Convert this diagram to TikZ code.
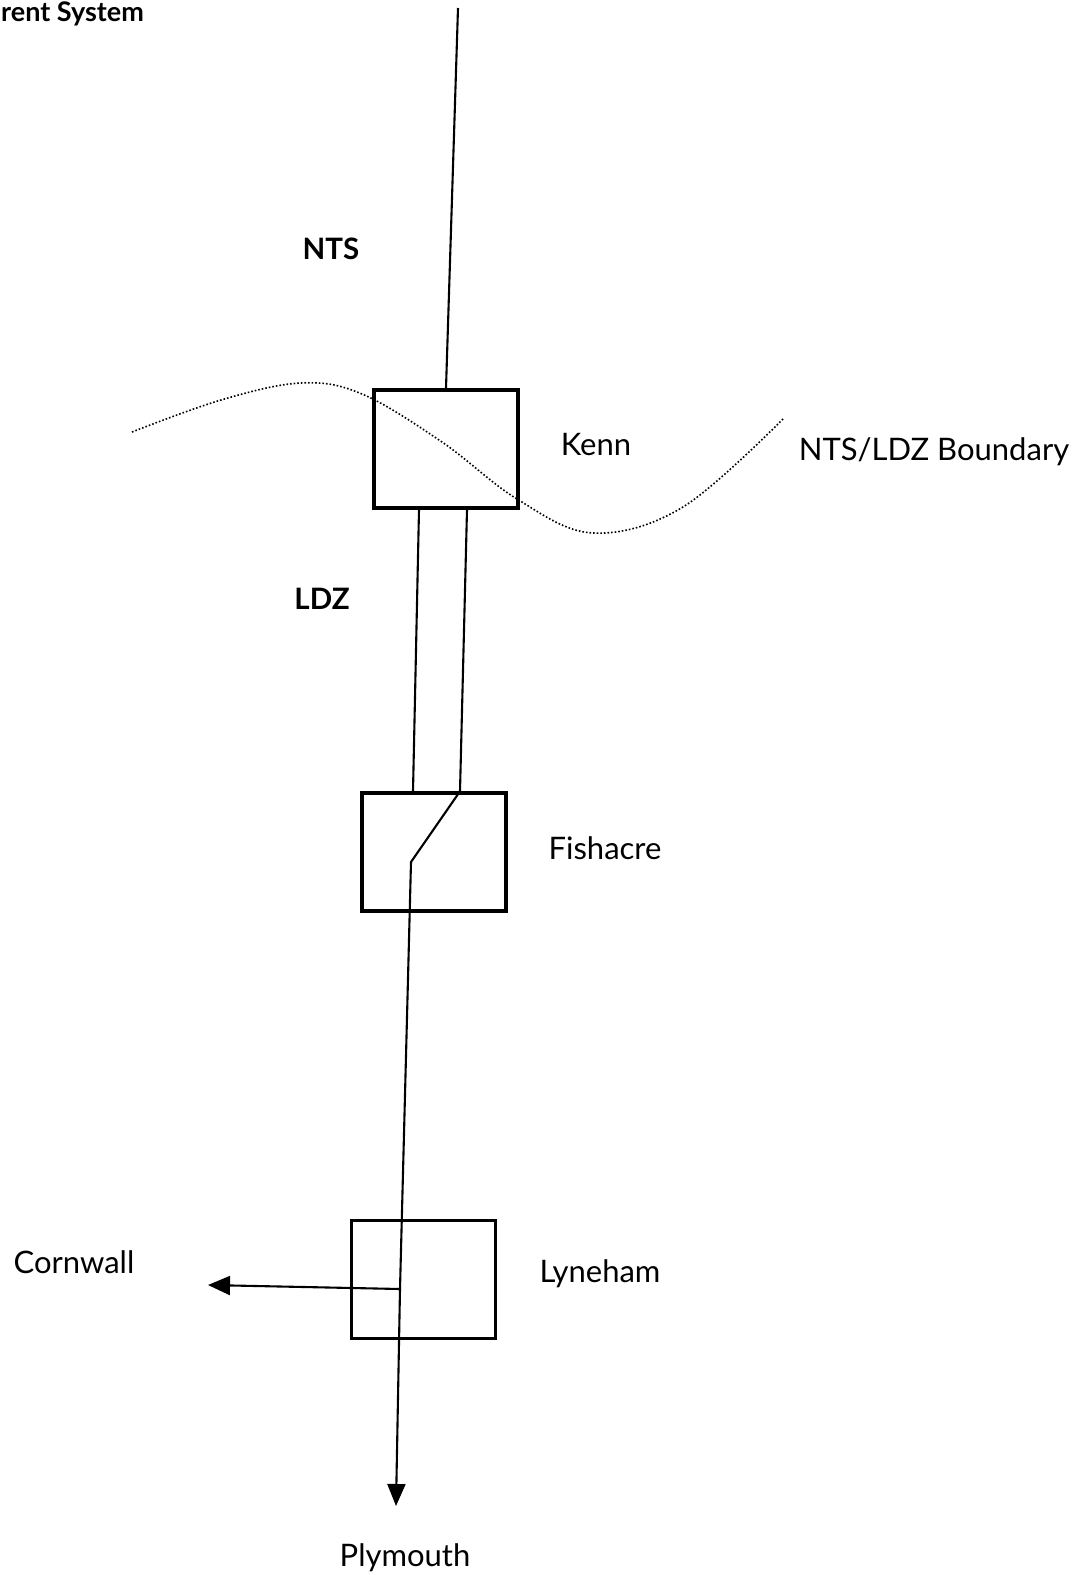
\documentclass[tikz,border=0pt]{standalone}
\usepackage{fontspec}
\setmainfont{Lato}
\usetikzlibrary{arrows.meta}

\begin{document}
\begin{tikzpicture}[x=1pt,y=-1pt,
	station/.style={draw,line width=3.4pt,minimum width=144pt,minimum height=118pt},
	pipe/.style={line width=2.1pt},
	lbl/.style={font=\fontsize{31}{34}\selectfont},
	zone/.style={font=\fontsize{29.5}{32}\selectfont\bfseries}]
				\useasboundingbox (0,0) rectangle (1084,1575);
				\node[station] (kenn) at (446,449) {};
				\node[station] (fish) at (434,852) {};
				\node[station,line width=3pt] (lyne) at (423,1279) {};
				\coordinate (ntstop) at (458,8);
				\coordinate (kink) at (411,862);
				\coordinate (tee) at (400,1289);
				\coordinate (plym) at (396,1506);
				\coordinate (corn) at (208,1285);
				\draw[pipe] (ntstop) -- (kenn.north);
				\draw[pipe] ([xshift=-27pt]kenn.south) -- ([xshift=-21pt]fish.north);
				\draw[pipe] ([xshift=21pt]kenn.south) -- ([xshift=26pt]fish.north) -- (kink) -- (tee);
				\draw[pipe,-{Triangle[length=22pt,width=18pt]}] (tee) -- (plym);
				\draw[pipe,-{Triangle[length=22pt,width=19pt]}] (tee) -- (corn);
				\draw[dotted,line width=1.6pt] plot[smooth,tension=0.6] coordinates
					{(132,432) (221,400) (301,383) (362,394) (442,442) (517,499) (593,533) (683,507) (784,418)};
				\node[anchor=north west,inner sep=1pt,font=\fontsize{27}{29}\selectfont\bfseries] (title) at (0,1) {rent System};
				\node[zone] (nts) at (331,249) {NTS};
				\node[zone] (ldz) at (322,599) {LDZ};
				\node[lbl] (kennl) at (596,444) {Kenn};
				\node[lbl] (bound) at (934,452) {NTS/LDZ Boundary};
				\node[lbl] (fishl) at (605,848) {Fishacre};
				\node[lbl] (cornl) at (74,1262) {Cornwall};
				\node[lbl] (lynel) at (600,1274) {Lyneham};
				\node[lbl] (plyml) at (405,1558) {Plymouth};
			\end{tikzpicture}
\end{document}
